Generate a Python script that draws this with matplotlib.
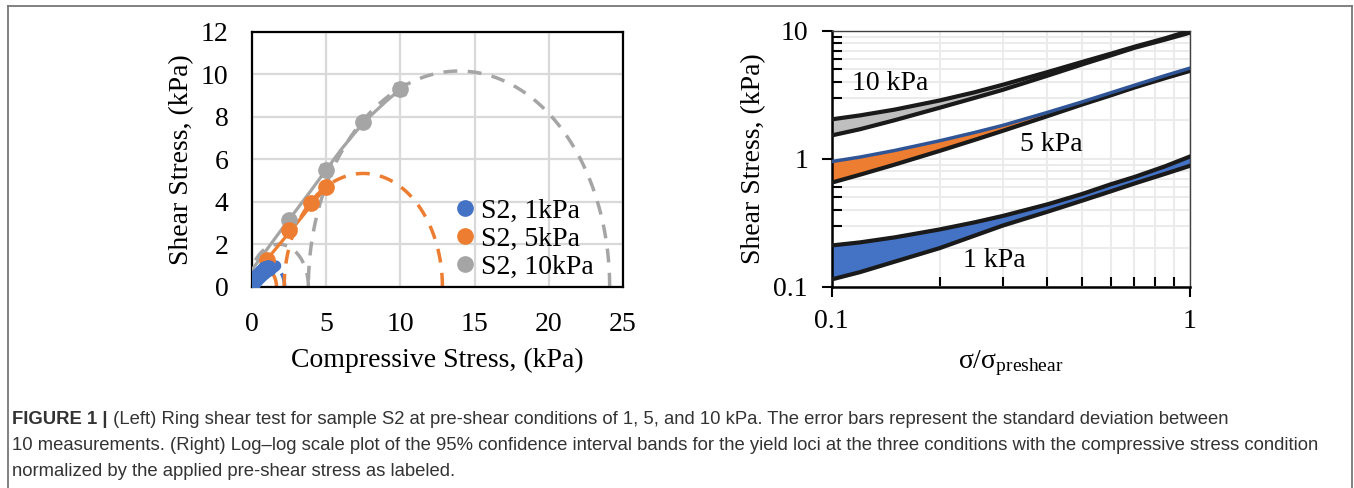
import matplotlib
matplotlib.use("Agg")
import matplotlib.pyplot as plt
import numpy as np
from matplotlib.lines import Line2D

plt.rcParams["font.family"] = ["Liberation Serif", "DejaVu Serif"]
plt.rcParams["mathtext.fontset"] = "custom"
plt.rcParams["mathtext.rm"] = "Liberation Serif"

BLUE = "#4472C4"
ORANGE = "#ED7D31"
GRAY = "#A5A5A5"

# ---- left panel: ring shear data (kPa)
s1_x = [0.1, 0.3, 0.5, 0.7, 0.9, 1.1]
s1_y = [0.2, 0.4, 0.55, 0.7, 0.82, 0.9]
s1_fit_x = [0.0, 1.6]
s1_fit_y = [0.12, 0.98]

s5_x = [1.0, 2.5, 4.0, 5.0]
s5_y = [1.25, 2.65, 3.95, 4.7]
s5_err = [0.08, 0.1, 0.1, 0.1]
s5_fit_x = [0, 1, 2, 3, 4, 5]
s5_fit_y = [0.45, 1.28, 2.12, 2.97, 3.84, 4.72]

s10_x = [2.5, 5.0, 7.5, 10.0]
s10_y = [3.15, 5.5, 7.75, 9.3]
s10_err = [0.2, 0.28, 0.1, 0.3]
s10_fit_x = [0, 1, 2, 3, 4, 5, 6, 7, 8, 9, 10]
s10_fit_y = [0.8, 1.75, 2.7, 3.62, 4.55, 5.5, 6.45, 7.3, 8.05, 8.7, 9.3]

# Mohr circles: centre, radius, colour
mohr_centres = [1.2, 0.8, 7.5, 1.8, 13.95]
mohr_radii = [1.0, 0.85, 5.33, 2.0, 10.15]
mohr_colors = [BLUE, ORANGE, ORANGE, GRAY, GRAY]

legend_labels = ["S2, 1kPa", "S2, 5kPa", "S2, 10kPa"]

# ---- right panel: 95% CI bands vs sigma/sigma_preshear
band_x = [0.1, 0.12, 0.15, 0.2, 0.25, 0.3, 0.4, 0.5, 0.6, 0.7, 0.85, 1.0]
b10_hi = [2.03, 2.18, 2.42, 2.85, 3.3, 3.78, 4.75, 5.7, 6.6, 7.5, 8.7, 10.0]
b10_lo = [1.52, 1.70, 2.0, 2.5, 2.98, 3.45, 4.45, 5.45, 6.4, 7.35, 8.5, 9.65]
b5_hi = [0.95, 1.03, 1.16, 1.38, 1.6, 1.82, 2.3, 2.78, 3.27, 3.75, 4.45, 5.1]
b5_lo = [0.65, 0.75, 0.9, 1.15, 1.4, 1.65, 2.15, 2.65, 3.12, 3.6, 4.25, 4.85]
b1_hi = [0.21, 0.222, 0.243, 0.28, 0.318, 0.357, 0.44, 0.53, 0.63, 0.72, 0.87, 1.04]
b1_lo = [0.114, 0.13, 0.157, 0.2, 0.25, 0.30, 0.385, 0.47, 0.555, 0.64, 0.76, 0.88]

caption_bold = "FIGURE 1 |"
caption_lines = [
    " (Left) Ring shear test for sample S2 at pre-shear conditions of 1, 5, and 10 kPa. "
    "The error bars represent the standard deviation between",
    "10 measurements. (Right) Log\u2013log scale plot of the 95% confidence interval bands "
    "for the yield loci at the three conditions with the compressive stress condition",
    "normalized by the applied pre-shear stress as labeled.",
]

W, H = 1354, 488
fig = plt.figure(figsize=(W / 100, H / 100), dpi=100)
FS = 20

# ---------------- left
ax = fig.add_axes([252 / W, 1 - 286.7 / H, 371 / W, 255 / H])
ax.set_xlim(0, 25)
ax.set_ylim(0, 12)
ax.set_xticks(range(0, 26, 5))
ax.set_yticks(range(0, 13, 2))
ax.grid(True, color="#D9D9D9", lw=1.6)
ax.set_axisbelow(True)
for sp in ax.spines.values():
    sp.set_linewidth(1.6)
ax.tick_params(length=0, labelsize=FS)
ax.tick_params(axis="x", pad=18)
ax.tick_params(axis="y", pad=17)
ax.set_xlabel("Compressive Stress, (kPa)", fontsize=FS, labelpad=8)
ax.set_ylabel("Shear Stress, (kPa)", fontsize=FS, labelpad=5)

th = np.linspace(0, np.pi, 200)
for c, r, col in zip(mohr_centres, mohr_radii, mohr_colors):
    ax.plot(c + r * np.cos(th), r * np.sin(th), color=col, lw=2.5,
            dashes=(4, 3), zorder=2)

ax.plot(s10_fit_x, s10_fit_y, color=GRAY, lw=2.3, zorder=3)
ax.plot(s5_fit_x, s5_fit_y, color=ORANGE, lw=2.3, zorder=3)
ax.plot(s1_fit_x, s1_fit_y, color=BLUE, lw=8, zorder=3, solid_capstyle="round")

ax.errorbar(s10_x, s10_y, yerr=s10_err, fmt="o", color=GRAY, ms=11,
            ecolor="#7F7F7F", capsize=4, elinewidth=1.3, zorder=4)
ax.errorbar(s5_x, s5_y, yerr=s5_err, fmt="o", color=ORANGE, ms=11,
            ecolor="#7F7F7F", capsize=4, elinewidth=1.3, zorder=4)
ax.plot(s1_x, s1_y, "o", color=BLUE, ms=11, zorder=5)

handles = [Line2D([], [], ls="", marker="o", ms=11, color=c) for c in (BLUE, ORANGE, GRAY)]
ax.legend(handles, legend_labels, loc="upper left", bbox_to_anchor=(0.545, 0.345),
          frameon=False, fontsize=FS, handlelength=0.8, handletextpad=0.15,
          labelspacing=0.08, borderpad=0, borderaxespad=0)

# ---------------- right
bx = fig.add_axes([831.7 / W, 1 - 286.7 / H, 358.3 / W, 256 / H])
bx.set_xscale("log")
bx.set_yscale("log")
bx.set_xlim(0.1, 1)
bx.set_ylim(0.1, 10)
bx.grid(True, which="both", color="#EBEBEB", lw=1.5)
bx.set_axisbelow(True)
bx.spines["left"].set_linewidth(1.8)
bx.spines["bottom"].set_linewidth(1.8)
for s in ("top", "right"):
    bx.spines[s].set_linewidth(1.0)
    bx.spines[s].set_color("#404040")
bx.set_xticks([0.1, 1])
bx.set_xticklabels(["0.1", "1"])
bx.set_yticks([0.1, 1, 10])
bx.set_yticklabels(["0.1", "1", "10"])
bx.tick_params(which="major", direction="out", length=7, width=1.5, labelsize=FS)
bx.tick_params(which="minor", direction="in", length=7, width=1.5, labelleft=False,
               labelbottom=False)
bx.tick_params(axis="x", which="major", pad=9)
bx.tick_params(axis="y", which="major", pad=10)
bx.set_ylabel("Shear Stress, (kPa)", fontsize=FS, labelpad=5)
bx.set_xlabel(r"$\mathrm{σ/σ_{preshear}}$", fontsize=FS, labelpad=10)

bx.fill_between(band_x, b10_lo, b10_hi, color="#BFBFBF", lw=0, zorder=2)
bx.plot(band_x, b10_hi, color="#1A1A1A", lw=3, zorder=3)
bx.plot(band_x, b10_lo, color="#1A1A1A", lw=3, zorder=3)

bx.fill_between(band_x, b5_lo, b5_hi, color=ORANGE, lw=0, zorder=2)
bx.plot(band_x, b5_lo, color="#1A1A1A", lw=3, zorder=3)
bx.plot(band_x, b5_hi, color="#2F5597", lw=2.5, zorder=3)

bx.fill_between(band_x, b1_lo, b1_hi, color=BLUE, lw=0, zorder=2)
bx.plot(band_x, b1_hi, color="#1A1A1A", lw=3, zorder=3)
bx.plot(band_x, b1_lo, color="#1A1A1A", lw=3, zorder=3)

bx.text(0.114, 3.9, "10 kPa", fontsize=FS, va="center", ha="left")
bx.text(0.336, 1.28, "5 kPa", fontsize=FS, va="center", ha="left")
bx.text(0.233, 0.161, "1 kPa", fontsize=FS, va="center", ha="left")

# ---------------- frame + caption
fr = dict(color="#777777", lw=1.3, transform=None)
fig.add_artist(Line2D([8, 8], [0, H - 6], **fr))
fig.add_artist(Line2D([8, W - 2], [H - 6, H - 6], **fr))
fig.add_artist(Line2D([W - 2, W - 2], [0, H - 6], **fr))

cap_font = ["Liberation Sans Narrow", "Liberation Sans", "DejaVu Sans"]
cap_fs = 13.35
cap_col = "#333333"
ys = [420, 446, 471]
tb = fig.text(12 / W, 1 - ys[0] / H, caption_bold, family=cap_font, fontsize=cap_fs,
              fontweight="bold", color=cap_col, va="center")
fig.canvas.draw()
bb = tb.get_window_extent()
fig.text(bb.x1 / W, 1 - ys[0] / H, caption_lines[0], family=cap_font, fontsize=cap_fs,
         color=cap_col, va="center")
for y, line in zip(ys[1:], caption_lines[1:]):
    fig.text(12 / W, 1 - y / H, line, family=cap_font, fontsize=cap_fs, color=cap_col,
             va="center")

fig.savefig("out.png", dpi=100)
